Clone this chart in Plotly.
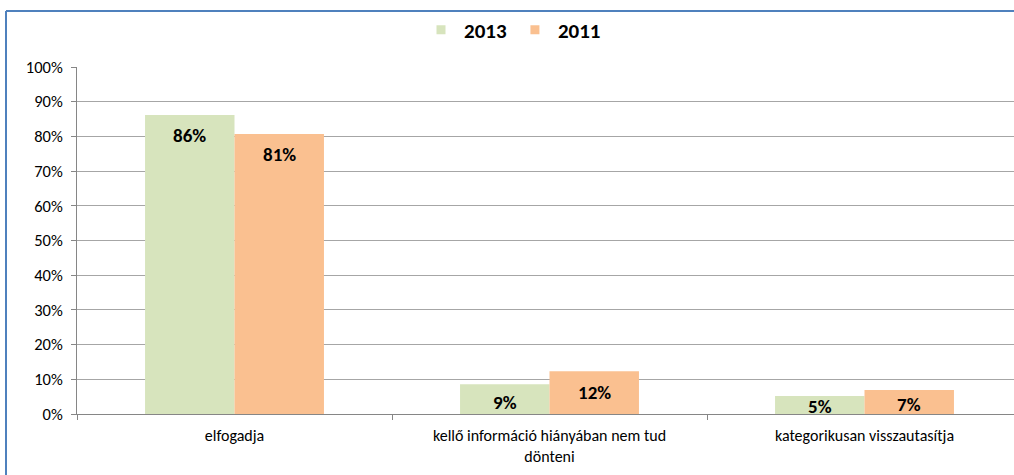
import plotly.graph_objects as go

categories = ["elfogadja", "kellő információ hiányában nem tud<br>dönteni", "kategorikusan visszautasítja"]
series_names = ["2013", "2011"]
values_2013 = [86.2, 8.6, 5.2]
values_2011 = [80.7, 12.3, 6.9]
y_ticks = [0, 10, 20, 30, 40, 50, 60, 70, 80, 90, 100]
y_tick_text = [f"{t}%" for t in y_ticks]

FONT = "Calibri, Carlito, Lato, 'Open Sans', sans-serif"
W, H = 1014, 475
ML, MR, MT, MB = 77, 0, 67, 61
PLOT_H = H - MT - MB
PLOT_W = W - ML - MR
CAT_W = 315.0
colors = ["#D7E4BD", "#FAC090"]

fig = go.Figure()
for name, vals, col in zip(series_names, [values_2013, values_2011], colors):
    fig.add_trace(go.Bar(name=name, x=categories, y=vals, showlegend=False,
                         marker=dict(color=col, line=dict(width=0))))
# legend entries with small square keys
for name, col in zip(series_names, colors):
    fig.add_trace(go.Scatter(name=f"<b>{name}</b>", x=[None], y=[None], mode="markers",
                             marker=dict(symbol="square", size=9, color=col)))

# data labels, placed inside the top end of each bar
bar_px = CAT_W * (1 - 0.432) / 2
for si, vals in enumerate([values_2013, values_2011]):
    xs = -bar_px / 2 if si == 0 else bar_px / 2
    for ci, v in enumerate(vals):
        hpx = v / 100 * PLOT_H
        fig.add_annotation(x=categories[ci], y=v, xref="x", yref="y",
                           text=f"<b>{round(v)}%</b>", showarrow=False,
                           xshift=xs, yshift=-min(21, hpx * 0.6), yanchor="middle",
                           font=dict(family=FONT, size=19, color="#000000"))

x_end = (PLOT_W) / CAT_W - 0.5
fig.update_layout(
    width=W, height=H,
    margin=dict(l=ML, r=MR, t=MT, b=MB, autoexpand=False),
    paper_bgcolor="white", plot_bgcolor="white",
    barmode="group", bargap=0.432, bargroupgap=0,
    font=dict(family=FONT, size=15, color="#000000"),
    legend=dict(orientation="h", x=(512 - ML) / PLOT_W, xanchor="center",
                y=(H - MB - 30) / PLOT_H, yanchor="middle",
                font=dict(family=FONT, size=21, color="#000000"),
                itemwidth=36, bgcolor="rgba(0,0,0,0)", tracegroupgap=0,
                maxheight=200),
    xaxis=dict(type="category", range=[-0.5, x_end], showline=True, linecolor="#868686",
               linewidth=1, ticks="outside", tickson="boundaries", ticklen=5,
               tickcolor="#868686", showgrid=False, ticklabelstandoff=7,
               tickfont=dict(family=FONT, size=16, color="#000000")),
    yaxis=dict(range=[0, 100], tickvals=y_ticks, ticktext=y_tick_text, showline=True,
               linecolor="#868686", linewidth=1, ticks="outside", ticklen=5,
               tickcolor="#868686", showgrid=True, gridcolor="#A6A6A6", gridwidth=1,
               zeroline=False, ticklabelstandoff=5,
               tickfont=dict(family=FONT, size=16.5, color="#000000")),
)

# outer chart frame (blue), partly cropped in the reference
fx = (6 - ML) / PLOT_W
fy = (H - MB - 11) / PLOT_H
fig.add_shape(type="line", xref="paper", yref="paper", x0=fx, x1=1.0, y0=fy, y1=fy,
              line=dict(color="#4F81BD", width=2))
fig.add_shape(type="line", xref="paper", yref="paper", x0=fx, x1=fx, y0=fy, y1=-0.3,
              line=dict(color="#4F81BD", width=2))

fig.write_html("out.html", config={"displayModeBar": False},
               post_script="document.body.style.margin='0';document.body.style.overflow='hidden';")
